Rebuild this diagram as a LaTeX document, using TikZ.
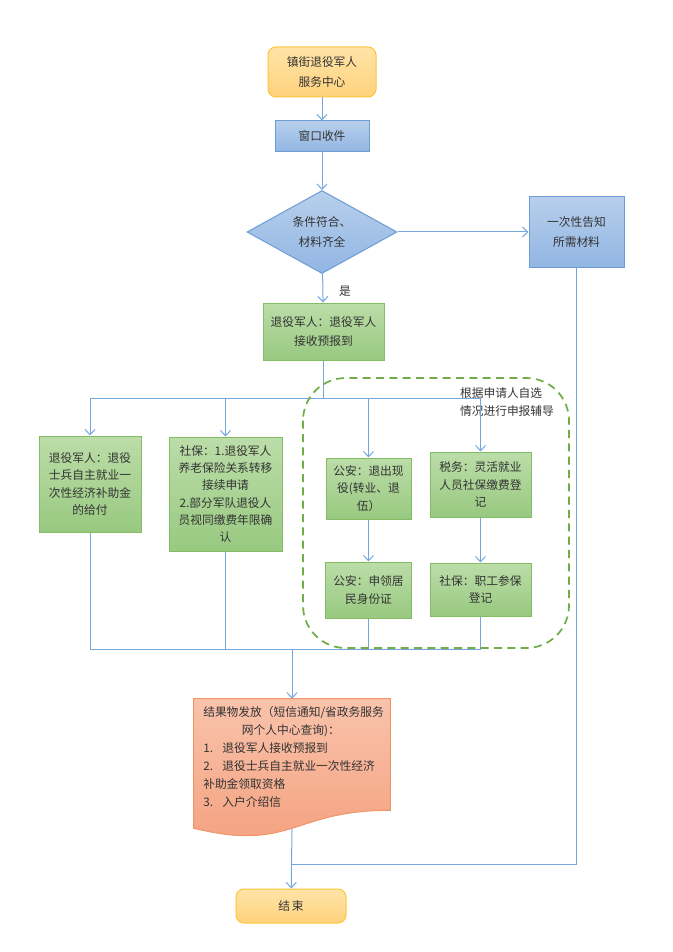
\documentclass[tikz,border=0pt]{standalone}
\usepackage{fontspec}
\setmainfont{Noto Sans CJK SC}
\usetikzlibrary{shapes.geometric,arrows.meta,calc}

\definecolor{lnblue}{HTML}{74A7DE}
\definecolor{startbd}{HTML}{FFC537}
\definecolor{starttop}{HTML}{FFE4A8}
\definecolor{startbot}{HTML}{FFD27C}
\definecolor{bluebd}{HTML}{6C9BD6}
\definecolor{bluetop}{HTML}{B7CFEC}
\definecolor{bluebot}{HTML}{92B6E3}
\definecolor{greenbd}{HTML}{83BC63}
\definecolor{greentop}{HTML}{BCDDA9}
\definecolor{greenbot}{HTML}{98C980}
\definecolor{resbd}{HTML}{F0966A}
\definecolor{restop}{HTML}{F9C3AB}
\definecolor{resbot}{HTML}{F4A07E}
\definecolor{dashgreen}{HTML}{70AD47}
\definecolor{txt}{HTML}{333333}

\tikzset{
  startbox/.style={draw=startbd, line width=0.75pt, rounded corners=6pt, top color=starttop, bottom color=startbot, align=center, text=txt},
  bluebox/.style={draw=bluebd, line width=0.75pt, top color=bluetop, bottom color=bluebot, align=center, text=txt},
  greenbox/.style={draw=greenbd, line width=0.75pt, top color=greentop, bottom color=greenbot, align=center, text=txt},
  conn/.style={draw=lnblue, line width=0.75pt},
  arr/.style={conn, -{Straight Barb[length=4pt,width=7.5pt]}},
}

\begin{document}
\begin{tikzpicture}[x=0.75pt,y=-0.75pt,font=\fontsize{8.8}{13}\selectfont]
    \useasboundingbox (0,0) rectangle (673,952);

    \node[startbox, minimum width=81pt, minimum height=37.5pt, font=\fontsize{8.8}{15}\selectfont] (start) at (322,72) {镇街退役军人\\服务中心};
    \node[bluebox, minimum width=70.5pt, minimum height=23.25pt] (win) at (322,136.5) {窗口收件};
    \node[bluebox, diamond, aspect=1.8, minimum width=112.5pt, minimum height=62.25pt, inner sep=0pt, font=\fontsize{8.8}{15}\selectfont] (check) at (322,232) {条件符合、\\材料齐全};
    \node[bluebox, minimum width=71.25pt, minimum height=52.5pt, font=\fontsize{8.8}{15}\selectfont] (notice) at (576.5,232) {一次性告知\\所需材料};
    \node[text=txt] (yes) at (345,291) {是};
    \node[greenbox, minimum width=90.75pt, minimum height=42.75pt, font=\fontsize{8.8}{14}\selectfont] (recv) at (323.5,331.5) {退役军人：退役军人\\接收预报到};

    \node[greenbox, minimum width=76.5pt, minimum height=72pt] (b1) at (90,484) {退役军人：退役\\士兵自主就业一\\次性经济补助金\\的给付};
    \node[greenbox, minimum width=84.75pt, minimum height=85.5pt] (b2) at (225.5,494) {社保：1.退役军人\\养老保险关系转移\\接续申请\\2.部分军队退役人\\员视同缴费年限确\\认};
    \node[greenbox, minimum width=63.75pt, minimum height=45.75pt] (b3) at (368.5,488.5) {公安：退出现\\役(转业、退\\伍）};
    \node[greenbox, minimum width=75.75pt, minimum height=48.75pt] (b4) at (480.5,484.5) {税务：灵活就业\\人员社保缴费登\\记};
    \node[greenbox, minimum width=64.5pt, minimum height=42pt] (b5) at (368.5,590) {公安：申领居\\民身份证};
    \node[greenbox, minimum width=75.75pt, minimum height=39.75pt] (b6) at (480.5,589.5) {社保：职工参保\\登记};
    \node[text=txt, align=left] (tip) at (507,402) {根据申请人自选\\情况进行申报辅导};

    \node[minimum width=147pt, minimum height=96.75pt, inner sep=0pt] (doc) at (292,763.5) {};
    \path[draw=resbd, line width=0.75pt, top color=restop, bottom color=resbot]
        (doc.north west) -- (doc.north east) -- ($(doc.south east)+(0,-18)$)
        .. controls ($(doc.south)+(0,-18)$) and ($(doc.south)+(0,24)$) .. (doc.south west) -- cycle;
    \node[text=txt, anchor=west, align=left, text width=142pt, inner sep=0pt, font=\fontsize{8.8}{13.5}\selectfont] (restext) at (203,757)
        {结果物发放（短信通知/省政务服务\\\hspace*{29pt}网个人中心查询)：\\1.\hspace{7pt}退役军人接收预报到\\2.\hspace{7pt}退役士兵自主就业一次性经济\\补助金领取资格\\3.\hspace{7pt}入户介绍信};

    \node[startbox, minimum width=82.5pt, minimum height=25.5pt] (fin) at (291,906) {结\,束};

    \coordinate (split) at (323.5,398);
    \coordinate (merge) at (292,649);
    \coordinate (join) at (292,864);

    \draw[arr] (start) -- (win);
    \draw[arr] (win) -- (check);
    \draw[arr] (check) -- (notice);
    \draw[arr] (check) -- (recv);
    \draw[conn] (recv) -- (split);
    \draw[arr] (split) -| (b1);
    \draw[arr] (split) -| (b2);
    \draw[arr] (split) -| (b3);
    \draw[arr] (split) -| (b4);
    \draw[arr] (b3) -- (b5);
    \draw[arr] (b4) -- (b6);
    \draw[conn] (b1) |- (merge);
    \draw[conn] (b2) |- (merge);
    \draw[conn] (b5) |- (merge);
    \draw[conn] (b6) |- (merge);
    \draw[arr] (merge) -- (doc.north);
    \draw[arr] (doc.south) -- (fin);
    \draw[conn] (notice) |- (join);

    \draw[dashgreen, line width=1.3pt, dash pattern=on 6pt off 4pt, rounded corners=32pt] (303,378) rectangle (569,648);
\end{tikzpicture}
\end{document}
